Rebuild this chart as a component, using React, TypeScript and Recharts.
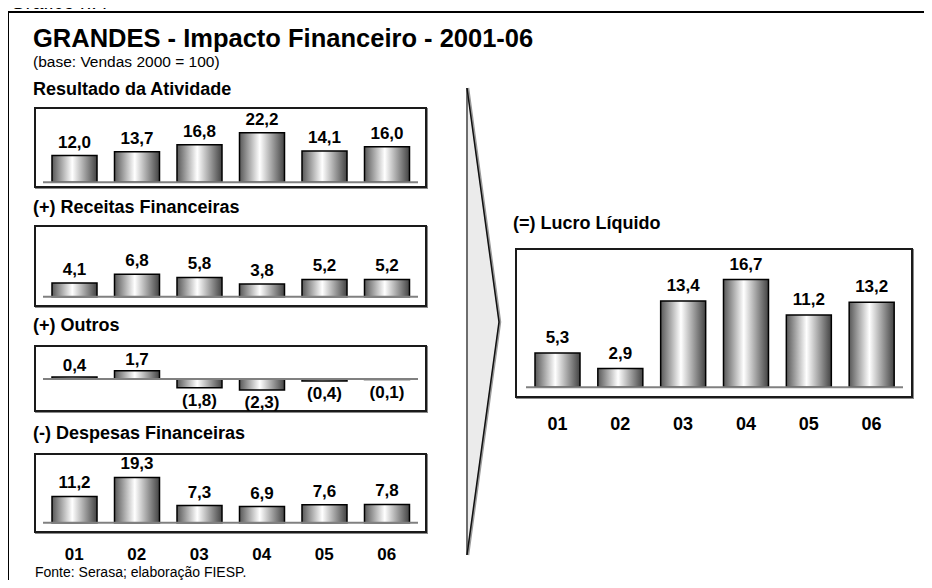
import React from 'react';
import { BarChart, Bar, XAxis, YAxis, ReferenceLine, LabelList } from 'recharts';

// anos 2001..2006
const YEARS = ['01', '02', '03', '04', '05', '06'];
const RESULTADO = [12.0, 13.7, 16.8, 22.2, 14.1, 16.0];
const RECEITAS = [4.1, 6.8, 5.8, 3.8, 5.2, 5.2];
const OUTROS = [0.4, 1.7, -1.8, -2.3, -0.4, -0.1];
const DESPESAS = [11.2, 19.3, 7.3, 6.9, 7.6, 7.8];
const LUCRO = [5.3, 2.9, 13.4, 16.7, 11.2, 13.2];

const FONT = 'Arial, "Liberation Sans", Helvetica, sans-serif';

const fmt = (v: number) => {
  const s = Math.abs(v).toFixed(1).replace('.', ',');
  return v < 0 ? `(${s})` : s;
};

type Box = { x: number; y: number; w: number; h: number };

interface PanelProps {
  id: string;
  values: number[];
  box: Box;
  plotTop: number;
  plotBottom: number;
  domain: [number, number];
  side: [number, number];
  labelOffset: number;
  tickFont?: number;
  tickMargin?: number;
}

const AXIS_H = 60;

function Panel({ id, values, box, plotTop, plotBottom, domain, side, labelOffset, tickFont, tickMargin }: PanelProps) {
  const data = YEARS.map((year, i) => ({ year, v: values[i] }));
  const showTicks = tickFont !== undefined;
  const height = showTicks ? plotBottom - box.y + AXIS_H : box.h;
  return (
    <>
      <div
        style={{
          position: 'absolute',
          left: box.x,
          top: box.y,
          width: box.w,
          height: box.h,
          border: '2px solid #1a1a1a',
          boxSizing: 'border-box',
          boxShadow: '1px 1px 0 #8a8a8a',
        }}
      />
      <div style={{ position: 'absolute', left: box.x, top: box.y }}>
        <BarChart
          width={box.w}
          height={height}
          data={data}
          margin={{
            top: plotTop - box.y,
            bottom: showTicks ? 0 : box.y + box.h - plotBottom,
            left: side[0],
            right: side[1],
          }}
        >
          <defs>
            <linearGradient id={`grad-${id}`} x1="0" y1="0" x2="1" y2="0">
              <stop offset="0%" stopColor="#585858" />
              <stop offset="45%" stopColor="#ffffff" />
              <stop offset="100%" stopColor="#434343" />
            </linearGradient>
          </defs>
          <XAxis
            dataKey="year"
            hide={!showTicks}
            height={AXIS_H}
            axisLine={false}
            tickLine={false}
            tickSize={0}
            tickMargin={tickMargin}
            interval={0}
            tick={{ fontSize: tickFont, fontWeight: 'bold', fill: '#000' }}
          />
          <YAxis hide domain={domain} />
          <ReferenceLine y={0} stroke="#808080" strokeWidth={2} />
          <Bar
            dataKey="v"
            fill={`url(#grad-${id})`}
            stroke="#000"
            strokeWidth={1.5}
            barSize={45}
            isAnimationActive={false}
          >
            <LabelList
              dataKey="v"
              position="top"
              offset={labelOffset}
              formatter={(v: number) => fmt(v)}
              fill="#000"
              fontSize={17}
              fontWeight="bold"
            />
          </Bar>
        </BarChart>
      </div>
    </>
  );
}

function Txt({ x, base, size, bold, children }: { x: number; base: number; size: number; bold?: boolean; children: React.ReactNode }) {
  return (
    <div
      style={{
        position: 'absolute',
        left: x,
        top: base - 0.8465 * size,
        fontSize: size,
        lineHeight: 1,
        fontWeight: bold ? 'bold' : 'normal',
        whiteSpace: 'nowrap',
        color: '#000',
      }}
    >
      {children}
    </div>
  );
}

export default function App() {
  return (
    <div
      style={{
        position: 'relative',
        margin: -8,
        width: 932,
        height: 588,
        overflow: 'hidden',
        background: '#fff',
        fontFamily: FONT,
      }}
    >
      <Txt x={10} base={9} size={20}>Gráfico n.4</Txt>
      <div
        style={{
          position: 'absolute',
          left: 7,
          top: 11,
          width: 960,
          height: 620,
          border: '2px solid #000',
        }}
      />
      <Txt x={33} base={47.5} size={25.5} bold>GRANDES - Impacto Financeiro - 2001-06</Txt>
      <Txt x={33} base={67} size={15.5}>(base: Vendas 2000 = 100)</Txt>

      <svg width={932} height={588} style={{ position: 'absolute', left: 0, top: 0 }}>
        <polygon points="467,88 499,322 467,555" fill="#ebebeb" />
        <line x1={467} y1={88} x2={467} y2={555} stroke="#6e6e6e" strokeWidth={2} />
        <polyline points="468,88 500,322 468,555" fill="none" stroke="#9a9a9a" strokeWidth={2.5} />
        <polyline points="467,88 499,322 467,555" fill="none" stroke="#111" strokeWidth={1.5} />
      </svg>

      <Txt x={33} base={95} size={18} bold>Resultado da Atividade</Txt>
      <Panel
        id="res"
        values={RESULTADO}
        box={{ x: 34, y: 107, w: 393, h: 81 }}
        plotTop={107}
        plotBottom={182.3}
        domain={[0, 33.8]}
        side={[9, 9]}
        labelOffset={8}
      />

      <Txt x={33} base={213} size={18} bold>(+) Receitas Financeiras</Txt>
      <Panel
        id="rec"
        values={RECEITAS}
        box={{ x: 34, y: 225, w: 393, h: 82 }}
        plotTop={225}
        plotBottom={296.7}
        domain={[0, 21.6]}
        side={[9, 9]}
        labelOffset={8}
      />

      <Txt x={33} base={331} size={18} bold>(+) Outros</Txt>
      <Panel
        id="out"
        values={OUTROS}
        box={{ x: 34, y: 345, w: 393, h: 67 }}
        plotTop={345}
        plotBottom={412}
        domain={[-6.875, 7.08]}
        side={[9, 9]}
        labelOffset={6}
      />

      <Txt x={33} base={439} size={18} bold>(-) Despesas Financeiras</Txt>
      <Panel
        id="desp"
        values={DESPESAS}
        box={{ x: 34, y: 453, w: 393, h: 80 }}
        plotTop={453}
        plotBottom={522.7}
        domain={[0, 29.7]}
        side={[9, 9]}
        labelOffset={8}
        tickFont={17}
        tickMargin={25}
      />
      <Txt x={35} base={577} size={14}>Fonte: Serasa; elaboração FIESP.</Txt>

      <Txt x={513} base={229} size={18} bold>(=) Lucro Líquido</Txt>
      <Panel
        id="lucro"
        values={LUCRO}
        box={{ x: 515, y: 248, w: 398, h: 150 }}
        plotTop={248}
        plotBottom={387.3}
        domain={[0, 21.6]}
        side={[11, 10]}
        labelOffset={10}
        tickFont={18}
        tickMargin={30}
      />
    </div>
  );
}
